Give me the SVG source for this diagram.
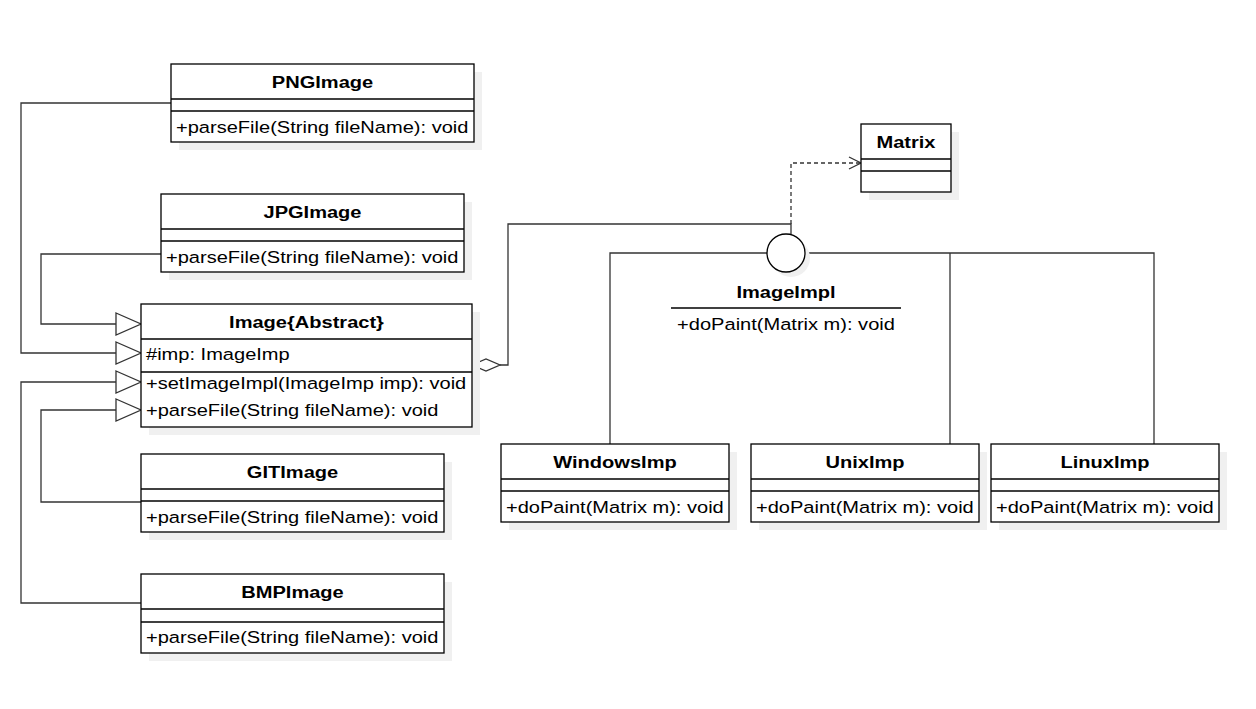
<svg xmlns="http://www.w3.org/2000/svg" width="1256" height="709" viewBox="0 0 1256 709">
<style>
.bg{fill:#ffffff}
.sh{fill:#f0f0f0;stroke:none}
.box{fill:#ffffff;stroke:#000;stroke-width:1.3}
.sep{stroke:#000;stroke-width:1.3;fill:none}
.t{font-family:"Liberation Sans",Arial,sans-serif;font-size:17px;fill:#000}
.h{font-weight:bold;text-anchor:middle}
.m{text-anchor:middle}
.c{fill:none;stroke:#333;stroke-width:1.3}
.d{fill:none;stroke:#333;stroke-width:1.3;stroke-dasharray:4 3}
.tri{fill:#fff;stroke:#333;stroke-width:1.3}
</style>
<rect class="bg" x="0" y="0" width="1256" height="709"/>

<g id="connectors">
  <polyline class="c" points="171,103 21,103 21,353 116,353"/>
  <polygon class="tri" points="116,342 141,353 116,364"/>
  <polyline class="c" points="161,254 41,254 41,324 116,324"/>
  <polygon class="tri" points="116,313 141,324 116,335"/>
  <polyline class="c" points="141,603 21,603 21,382 116,382"/>
  <polygon class="tri" points="116,371 141,382 116,393"/>
  <polyline class="c" points="141,502 41,502 41,410 116,410"/>
  <polygon class="tri" points="116,399 141,410 116,421"/>
  <polygon class="tri" points="472,365 486,359 500,365 486,371"/>
  <polyline class="c" points="500,365 508,365 508,224 791,224 791,234"/>
  <polyline class="d" points="791,224 791,163 860,163"/>
  <polyline class="c" points="849,157 861,163 849,169"/>
  <polyline class="c" points="610,444 610,253 767,253"/>
  <polyline class="c" points="805,253 1154,253 1154,444"/>
  <line class="c" x1="950" y1="253" x2="950" y2="444"/>
</g>

<g id="PNGImage">
  <rect class="sh" x="179" y="72" width="303" height="78"/>
  <rect class="box" x="171" y="64" width="303" height="78"/>
  <line class="sep" x1="171" y1="99" x2="474" y2="99"/>
  <line class="sep" x1="171" y1="111" x2="474" y2="111"/>
  <text class="t h" transform="translate(322.5,87.5) scale(1.18,1)">PNGImage</text>
  <text class="t" transform="translate(176,133) scale(1.18,1)">+parseFile(String fileName): void</text>
</g>

<g id="JPGImage">
  <rect class="sh" x="169" y="202" width="303" height="78"/>
  <rect class="box" x="161" y="194" width="303" height="78"/>
  <line class="sep" x1="161" y1="229" x2="464" y2="229"/>
  <line class="sep" x1="161" y1="241" x2="464" y2="241"/>
  <text class="t h" transform="translate(312.5,217.5) scale(1.18,1)">JPGImage</text>
  <text class="t" transform="translate(166,263) scale(1.18,1)">+parseFile(String fileName): void</text>
</g>

<g id="Image">
  <rect class="sh" x="149" y="312" width="331" height="123"/>
  <rect class="box" x="141" y="304" width="331" height="123"/>
  <line class="sep" x1="141" y1="339" x2="472" y2="339"/>
  <line class="sep" x1="141" y1="372" x2="472" y2="372"/>
  <text class="t h" transform="translate(306.5,327.5) scale(1.18,1)">Image{Abstract}</text>
  <text class="t" transform="translate(146,359.5) scale(1.18,1)">#imp: ImageImp</text>
  <text class="t" transform="translate(146,389) scale(1.18,1)">+setImageImpl(ImageImp imp): void</text>
  <text class="t" transform="translate(146,415.5) scale(1.18,1)">+parseFile(String fileName): void</text>
</g>

<g id="GITImage">
  <rect class="sh" x="149" y="462" width="303" height="78"/>
  <rect class="box" x="141" y="454" width="303" height="78"/>
  <line class="sep" x1="141" y1="489" x2="444" y2="489"/>
  <line class="sep" x1="141" y1="501" x2="444" y2="501"/>
  <text class="t h" transform="translate(292.5,477.5) scale(1.18,1)">GITImage</text>
  <text class="t" transform="translate(146,523) scale(1.18,1)">+parseFile(String fileName): void</text>
</g>

<g id="BMPImage">
  <rect class="sh" x="149" y="582" width="303" height="79"/>
  <rect class="box" x="141" y="574" width="303" height="79"/>
  <line class="sep" x1="141" y1="609" x2="444" y2="609"/>
  <line class="sep" x1="141" y1="622" x2="444" y2="622"/>
  <text class="t h" transform="translate(292.5,597.5) scale(1.18,1)">BMPImage</text>
  <text class="t" transform="translate(146,643) scale(1.18,1)">+parseFile(String fileName): void</text>
</g>

<g id="Matrix">
  <rect class="sh" x="869" y="132" width="90" height="68"/>
  <rect class="box" x="861" y="124" width="90" height="68"/>
  <line class="sep" x1="861" y1="159" x2="951" y2="159"/>
  <line class="sep" x1="861" y1="171" x2="951" y2="171"/>
  <text class="t h" transform="translate(906,147.5) scale(1.18,1)">Matrix</text>
</g>

<g id="ImageImpl">
  <circle class="sh" cx="791" cy="258" r="19"/>
  <circle class="box" cx="786" cy="253" r="19"/>
  <text class="t h" transform="translate(786,298) scale(1.18,1)">ImageImpl</text>
  <line class="sep" x1="671" y1="308" x2="901" y2="308"/>
  <text class="t m" transform="translate(786,330) scale(1.18,1)">+doPaint(Matrix m): void</text>
</g>

<g id="WindowsImp">
  <rect class="sh" x="509" y="452" width="228" height="78"/>
  <rect class="box" x="501" y="444" width="228" height="78"/>
  <line class="sep" x1="501" y1="479" x2="729" y2="479"/>
  <line class="sep" x1="501" y1="491" x2="729" y2="491"/>
  <text class="t h" transform="translate(615,467.5) scale(1.18,1)">WindowsImp</text>
  <text class="t" transform="translate(506,513) scale(1.18,1)">+doPaint(Matrix m): void</text>
</g>

<g id="UnixImp">
  <rect class="sh" x="759" y="452" width="228" height="78"/>
  <rect class="box" x="751" y="444" width="228" height="78"/>
  <line class="sep" x1="751" y1="479" x2="979" y2="479"/>
  <line class="sep" x1="751" y1="491" x2="979" y2="491"/>
  <text class="t h" transform="translate(865,467.5) scale(1.18,1)">UnixImp</text>
  <text class="t" transform="translate(756,513) scale(1.18,1)">+doPaint(Matrix m): void</text>
</g>

<g id="LinuxImp">
  <rect class="sh" x="999" y="452" width="228" height="78"/>
  <rect class="box" x="991" y="444" width="228" height="78"/>
  <line class="sep" x1="991" y1="479" x2="1219" y2="479"/>
  <line class="sep" x1="991" y1="491" x2="1219" y2="491"/>
  <text class="t h" transform="translate(1105,467.5) scale(1.18,1)">LinuxImp</text>
  <text class="t" transform="translate(996,513) scale(1.18,1)">+doPaint(Matrix m): void</text>
</g>
</svg>
